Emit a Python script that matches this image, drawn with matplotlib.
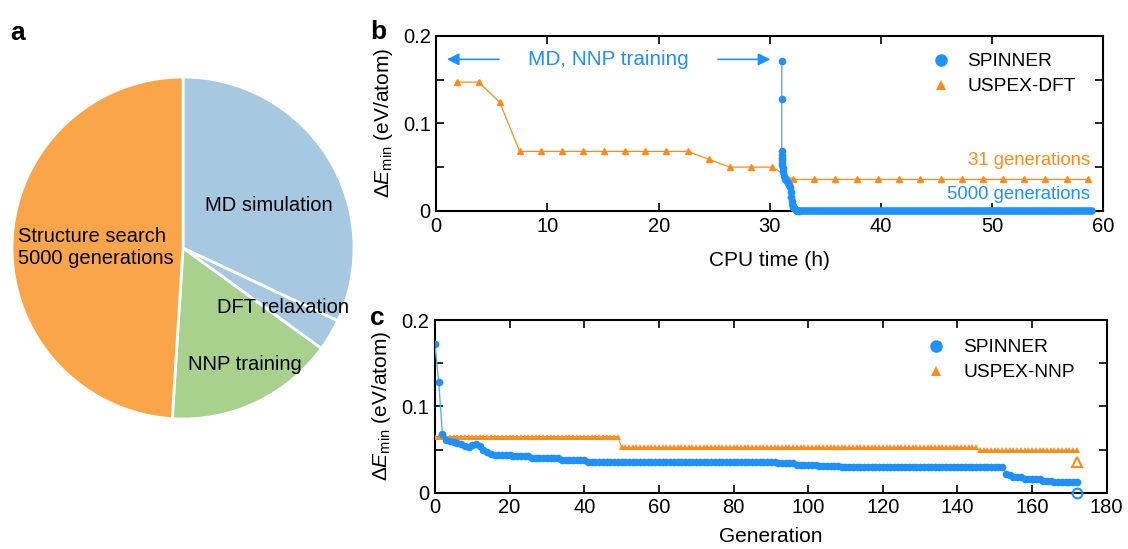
import numpy as np
import matplotlib
matplotlib.use('Agg')
import matplotlib.pyplot as plt
from matplotlib.lines import Line2D

plt.rcParams['font.family'] = ['Liberation Sans', 'DejaVu Sans']
plt.rcParams['font.size'] = 14.5
plt.rcParams['mathtext.fontset'] = 'custom'
plt.rcParams['mathtext.rm'] = 'Liberation Sans'
plt.rcParams['mathtext.it'] = 'Liberation Sans:italic'

# colours
blue = '#1E90FF'
blue_line = '#5AAEF5'
orange = '#FF8C1A'

# panel a: share of CPU time
pie_labels = ['MD simulation', 'DFT relaxation', 'NNP training', 'Structure search\n5000 generations']
pie_values = [32, 3, 16, 49]
pie_colors = ['#A7C8E1', '#A7C8E1', '#A9D18E', '#FBA54B']

# panel b: USPEX-DFT, one point per generation (CPU time in h)
dft_time = [1.9, 3.8, 5.7, 7.5, 9.4, 11.3, 13.2, 15.1, 17.0, 18.8, 20.7, 22.6, 24.5, 26.4, 28.3,
            30.2, 32.1, 34.0, 35.9, 37.8, 39.7, 41.6, 43.5, 45.4, 47.3, 49.2, 51.0, 52.9, 54.8,
            56.7, 58.6]
dft_energy = [0.147, 0.147, 0.124, 0.068, 0.068, 0.068, 0.068, 0.068, 0.068, 0.068, 0.068, 0.068,
              0.059, 0.050, 0.050, 0.050, 0.036, 0.036, 0.036, 0.036, 0.036, 0.036, 0.036, 0.036,
              0.036, 0.036, 0.036, 0.036, 0.036, 0.036, 0.036]

# panel b: SPINNER after MD / NNP training
spin_time = [31.07, 31.07, 31.07, 31.08, 31.09, 31.10, 31.11, 31.13, 31.15, 31.20, 31.27, 31.35,
             31.45, 31.55, 31.65, 31.72, 31.80, 31.87, 31.92, 31.96, 32.00, 32.05, 32.10, 32.17,
             32.25, 32.35, 32.45, 32.60]
spin_energy = [0.171, 0.128, 0.068, 0.064, 0.061, 0.058, 0.055, 0.052, 0.049, 0.045, 0.040, 0.037,
               0.035, 0.034, 0.032, 0.030, 0.027, 0.022, 0.016, 0.011, 0.008, 0.006, 0.004, 0.003,
               0.002, 0.001, 0.0005, 0.0]
# remaining generations all sit at zero up to the end of the run
spin_tail_time = [32.6, 59.0]
spin_tail_energy = [0.0, 0.0]

# panel c: per generation, stored as (value, number of generations)
spin_c_levels = [0.172, 0.128, 0.068, 0.061, 0.060, 0.059, 0.058, 0.056, 0.054, 0.053, 0.055, 0.057,
                 0.054, 0.050, 0.047, 0.045, 0.044, 0.042, 0.040, 0.038, 0.036, 0.034, 0.032, 0.031,
                 0.030, 0.022, 0.020, 0.018, 0.016, 0.014, 0.013]
spin_c_runs = [1, 1, 1, 1, 1, 1, 1, 1, 1, 1, 1, 1,
               1, 1, 1, 1, 5, 5, 8, 7, 51, 5, 6, 6,
               44, 1, 1, 3, 5, 3, 7]
nnp_c_levels = [0.065, 0.0525, 0.049]
nnp_c_runs = [50, 96, 27]
final_gen = 172
spin_final = 0.0
nnp_final = 0.036

spin_c = np.repeat(spin_c_levels, spin_c_runs)
nnp_c = np.repeat(nnp_c_levels, nnp_c_runs)
gen_spin = np.arange(len(spin_c))
gen_nnp = np.arange(len(nnp_c))

fig = plt.figure(figsize=(11.28, 5.49), dpi=100)

# ---- a: pie ----
ax_a = fig.add_axes([12 / 1128, 130 / 549, 342 / 1128, 342 / 549])
ax_a.pie(pie_values, colors=pie_colors, startangle=90, counterclock=False,
         wedgeprops=dict(edgecolor='white', linewidth=2))
ax_a.set_xlim(-1, 1)
ax_a.set_ylim(-1, 1)
ax_a.set_aspect('equal')
ax_a.text(0.50, 0.25, pie_labels[0], ha='center', va='center', fontsize=14.5)
ax_a.text(0.585, -0.35, pie_labels[1], ha='center', va='center', fontsize=14.5)
ax_a.text(0.36, -0.684, pie_labels[2], ha='center', va='center', fontsize=14.5)
ax_a.text(-0.965, 0.0, pie_labels[3], ha='left', va='center', fontsize=14.5, linespacing=1.2)


def style_axis(ax):
    for s in ax.spines.values():
        s.set_linewidth(1.5)
    ax.tick_params(direction='in', length=5.5, width=1.2, top=True, right=True,
                   labelsize=14.5, pad=4)
    ax.set_yticks([0, 0.05, 0.1, 0.15, 0.2])
    ax.set_yticklabels(['0', '', '0.1', '', '0.2'])
    ax.set_ylim(0, 0.2)


# ---- b: energy vs CPU time ----
ax_b = fig.add_axes([0.3868, 0.6157, 0.5913, 0.3193])
ax_b.plot(dft_time, dft_energy, '-^', color=orange, lw=0.9, ms=4, clip_on=False, zorder=3)
ax_b.plot(spin_time, spin_energy, '-', color=blue_line, lw=1.0, zorder=3)
ax_b.plot(spin_time, spin_energy, 'o', color=blue, ms=5.5, mew=0, clip_on=False, zorder=4)
ax_b.plot(spin_tail_time, spin_tail_energy, '-', color=blue, lw=5.5, solid_capstyle='round',
          clip_on=False, zorder=4)
ax_b.set_xlim(0, 60)
ax_b.set_xticks([0, 10, 20, 30, 40, 50, 60])
style_axis(ax_b)
ax_b.set_xlabel('CPU time (h)', fontsize=15, labelpad=11)
ax_b.set_ylabel('Δ$E_{\\mathrm{min}}$ (eV/atom)', fontsize=15, labelpad=6)
ax_b.text(15.5, 0.173, 'MD, NNP training', color=blue, ha='center', va='center', fontsize=14.9)
ax_b.annotate('', xy=(0.7, 0.173), xytext=(5.9, 0.173),
              arrowprops=dict(arrowstyle='-|>', color=blue, lw=1.2, mutation_scale=18))
ax_b.annotate('', xy=(30.3, 0.173), xytext=(25.1, 0.173),
              arrowprops=dict(arrowstyle='-|>', color=blue, lw=1.2, mutation_scale=18))
ax_b.text(58.8, 0.058, '31 generations', color=orange, ha='right', va='center', fontsize=13.3)
ax_b.text(58.8, 0.019, '5000 generations', color=blue, ha='right', va='center', fontsize=13.3)
h_b = [Line2D([], [], ls='', marker='o', color=blue, ms=9, mew=0),
       Line2D([], [], ls='', marker='^', color=orange, ms=7, mew=0)]
ax_b.legend(h_b, ['SPINNER', 'USPEX-DFT'], loc='upper right', bbox_to_anchor=(0.985, 1.0),
            frameon=False, handletextpad=0.4, fontsize=13.8, labelspacing=0.4)

# ---- c: energy vs generation ----
ax_c = fig.add_axes([0.3856, 0.1025, 0.5955, 0.3146])
ax_c.plot(gen_nnp, nnp_c, '-^', color=orange, lw=0.8, ms=3.8, mew=0, zorder=3)
ax_c.plot(gen_spin, spin_c, '-', color=blue_line, lw=1.0, zorder=3)
ax_c.plot(gen_spin, spin_c, 'o', color=blue, ms=5.5, mew=0, zorder=4)
ax_c.plot([final_gen], [nnp_final], '^', mfc='none', mec=orange, mew=1.5, ms=6.5, zorder=4)
ax_c.plot([final_gen], [spin_final], 'o', mfc='none', mec=blue, mew=1.5, ms=7, clip_on=False, zorder=5)
ax_c.set_xlim(0, 180)
ax_c.set_xticks(np.arange(0, 181, 20))
style_axis(ax_c)
ax_c.set_xlabel('Generation', fontsize=15, labelpad=7)
ax_c.set_ylabel('Δ$E_{\\mathrm{min}}$ (eV/atom)', fontsize=15, labelpad=6)
h_c = [Line2D([], [], ls='', marker='o', color=blue, ms=9, mew=0),
       Line2D([], [], ls='', marker='^', color=orange, ms=7, mew=0)]
ax_c.legend(h_c, ['SPINNER', 'USPEX-NNP'], loc='upper right', bbox_to_anchor=(0.978, 0.99),
            frameon=False, handletextpad=0.4, fontsize=13.8, labelspacing=0.4)

# panel letters
fig.text(10 / 1128, 1 - 40 / 549, 'a', fontsize=19, fontweight='bold')
fig.text(370 / 1128, 1 - 39 / 549, 'b', fontsize=19, fontweight='bold')
fig.text(370 / 1128, 1 - 325 / 549, 'c', fontsize=19, fontweight='bold')

fig.savefig('out.png', dpi=100)
